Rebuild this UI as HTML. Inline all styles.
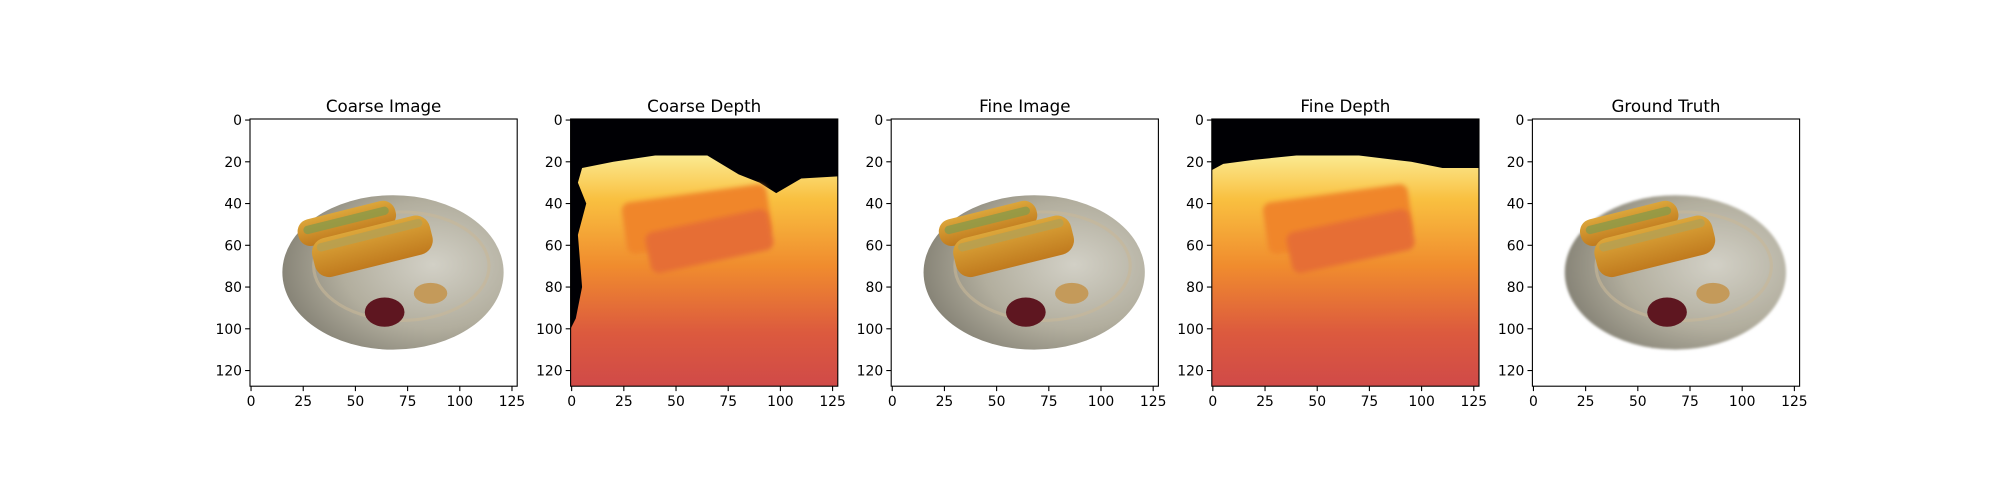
<!DOCTYPE html>
<html><head><meta charset="utf-8"><style>
html,body{margin:0;padding:0;background:#fff}
svg{display:block}
text{font-family:"DejaVu Sans","Liberation Sans",sans-serif;fill:#000}
</style></head><body>
<svg id="fig" width="2000" height="500" viewBox="0 0 2000 500">
<defs>
<linearGradient id="depthGrad" x1="0" y1="0" x2="0" y2="1">
<stop offset="0.12" stop-color="#fbee98"/><stop offset="0.3" stop-color="#f9c040"/><stop offset="0.55" stop-color="#f08c2e"/><stop offset="0.8" stop-color="#dc5a3e"/><stop offset="1" stop-color="#d04a48"/>
</linearGradient>
<radialGradient id="plateGrad" cx="0.68" cy="0.45" r="0.75">
<stop offset="0" stop-color="#d2d0c6"/><stop offset="0.55" stop-color="#b2ae9e"/><stop offset="1" stop-color="#7d7a6e"/>
</radialGradient>
<linearGradient id="bunGrad" x1="0" y1="0" x2="0" y2="1">
<stop offset="0" stop-color="#dca63a"/><stop offset="1" stop-color="#c07a1e"/>
</linearGradient>
<filter id="blur1"><feGaussianBlur stdDeviation="0.6"/></filter>
<filter id="blur2"><feGaussianBlur stdDeviation="1.2"/></filter>
</defs>
</svg>
<script>
const titles = ["Coarse Image","Coarse Depth","Fine Image","Fine Depth","Ground Truth"];
const kinds = ["image","depth","image","depth","image"];
const xTicks = [0,25,50,75,100,125];
const yTicks = [0,20,40,60,80,100,120];
const imgSize = 128;

const NS="http://www.w3.org/2000/svg";
const fig=document.getElementById('fig');
function el(tag,attrs,parent){const e=document.createElementNS(NS,tag);for(const k in attrs)e.setAttribute(k,attrs[k]);(parent||fig).appendChild(e);return e;}

const axW=267.2, axTop=119, axLeft0=250, axStep=320.6;
const sc=axW/imgSize;

function drawImage(g,i){
  const plate=el('ellipse',{cx:68,cy:73,rx:53,ry:37,fill:'url(#plateGrad)',filter:i==4?'url(#blur1)':''},g);
  
  el('ellipse',{cx:72,cy:70,rx:42,ry:26,fill:'none',stroke:'#c8b898','stroke-width':1.5,opacity:0.6},g);
  const h1=el('rect',{x:22,y:43,width:48,height:13,rx:6,fill:'url(#bunGrad)',transform:'rotate(-14 46 50)'},g);
  
  el('rect',{x:25,y:46,width:42,height:4,rx:2,fill:'#8e9a48',transform:'rotate(-14 46 50)',opacity:0.85},g);
  const h2=el('rect',{x:29,y:51,width:58,height:19,rx:7,fill:'url(#bunGrad)',transform:'rotate(-14 58 60)'},g);
  
  el('rect',{x:32,y:53,width:52,height:4,rx:2,fill:'#b8a050',transform:'rotate(-14 58 60)',opacity:0.9},g);
  const k=el('ellipse',{cx:64,cy:92,rx:9.5,ry:7,fill:'#5e1620'},g);
  
  const m=el('ellipse',{cx:86,cy:83,rx:8,ry:5,fill:'#c49a5a'},g);
  
}
function drawDepth(g,i){
  el('rect',{x:-0.5,y:-0.5,width:128,height:128,fill:'url(#depthGrad)'},g);
  const coarse=i==1;
  const top=coarse?"M-0.5,-0.5 L127.5,-0.5 L127.5,27 L110,28 L98,35 L90,30 L80,26 L65,17 L40,17 L20,20 L5,23 L3,30 L7,40 L3,55 L5,80 L2,95 L-0.5,100 Z"
                  :"M-0.5,-0.5 L127.5,-0.5 L127.5,23 L110,23 L95,20 L70,17 L40,17 L20,19 L5,21 L-0.5,24 Z";
  const b=el('path',{d:top,fill:'#000004'},g);
  
  const r=el('rect',{x:25,y:35,width:70,height:25,rx:4,fill:'#f0862c',transform:'rotate(-8 60 48)',filter:'url(#blur2)'},g);
  
  el('rect',{x:36,y:48,width:60,height:20,rx:4,fill:'#e66e36',transform:'rotate(-12 66 58)',filter:'url(#blur2)'},g);
}

titles.forEach((t,i)=>{
  const left=axLeft0+i*axStep;
  const clipId='clip'+i;
  const cp=el('clipPath',{id:clipId});
  el('rect',{x:left,y:axTop,width:axW,height:axW},cp);
  const outer=el('g',{'clip-path':`url(#${clipId})`});
  
  
  const g=el('g',{transform:`translate(${left+0.5*sc},${axTop+0.5*sc}) scale(${sc})`},outer);
  if(kinds[i]=='image')drawImage(g,i);else drawDepth(g,i);
  const frame=el('rect',{x:left,y:axTop,width:axW,height:axW,fill:'none',stroke:'#000','stroke-width':1.1});
  
  
  const tt=el('text',{x:left+axW/2,y:axTop-7,'text-anchor':'middle','font-size':16.7});
  tt.textContent=t;
  
  
  xTicks.forEach(v=>{
    const x=left+(v+0.5)*sc;
    el('line',{x1:x,x2:x,y1:axTop+axW,y2:axTop+axW+4.9,stroke:'#000','stroke-width':1.1});
    const lab=el('text',{x:x,y:axTop+axW+20,'text-anchor':'middle','font-size':13.9});
    lab.textContent=v;
    
    
  });
  yTicks.forEach(v=>{
    const y=axTop+(v+0.5)*sc;
    el('line',{x1:left-4.9,x2:left,y1:y,y2:y,stroke:'#000','stroke-width':1.1});
    const lab=el('text',{x:left-8,y:y+5,'text-anchor':'end','font-size':13.9});
    lab.textContent=v;
    
    
  });
});
</script>
</body></html>
